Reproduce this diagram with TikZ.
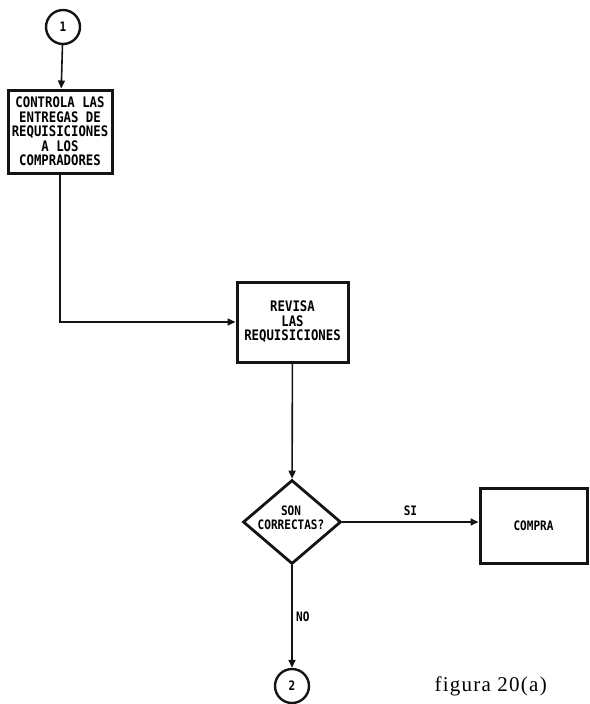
\documentclass[tikz,border=0pt]{standalone}
\usepackage{fontspec}
\usepackage{tikz}
\usetikzlibrary{positioning, arrows.meta, shapes.geometric}
\newfontfamily\plotfont[FakeStretch=0.85]{DejaVu Sans Mono}
\newfontfamily\capfont[LetterSpace=6]{Liberation Serif}
\definecolor{inkblack}{RGB}{20, 20, 20}

\begin{document}
\begin{tikzpicture}[x=1pt, y=-1pt, >={Triangle[length=8pt, width=7pt]},
    font=\plotfont\bfseries\fontsize{14.5}{14.5}\selectfont,
    procbox/.style={draw=inkblack, line width=3pt, rectangle, align=center, inner sep=0pt},
    decbox/.style={draw=inkblack, line width=2.8pt, diamond, inner sep=0pt},
    conn/.style={draw=inkblack, circle, line width=2.4pt, minimum size=34pt, inner sep=0pt,
                 font=\plotfont\bfseries\fontsize{13}{13}\selectfont},
    flow/.style={->, draw=inkblack, line width=1.6pt}]
  \useasboundingbox (0,0) rectangle (589,704);
  % Top: connector and first activity
  \node[conn] (c1) at (63, 27) {1};
  \node[procbox, minimum width=104pt, minimum height=83pt] (ctrl) at (60, 131.5)
        {CONTROLA LAS\\ENTREGAS DE\\REQUISICIONES\\A LOS\\COMPRADORES};
  % Middle: review and decision
  \node[procbox, minimum width=111pt, minimum height=80pt] (rev) at (292.5, 322)
        {REVISA\\LAS\\REQUISICIONES};
  \node[decbox, minimum width=98pt, minimum height=84pt] (dec) at (292, 522) {};
  \node[font=\plotfont\bfseries\fontsize{13}{13.5}\selectfont, align=center] (dectxt) at (291, 518)
        {SON\\CORRECTAS?};
  \node[procbox, minimum width=107pt, minimum height=75pt,
        font=\plotfont\bfseries\fontsize{13}{13}\selectfont] (buy) at (533.5, 525.5) {COMPRA};
  % Bottom: exit connector and caption
  \node[conn] (c2) at (292, 686) {2};
  \node[font=\capfont\fontsize{21}{21}\selectfont, anchor=west] (cap) at (431, 686) {figura 20(a)};

  \draw[flow] (c1) -- (ctrl);
  \draw[flow] (ctrl.south) |- (rev.west);
  \draw[flow] (rev) -- (dec);
  \draw[flow] (dec.east) -- node[above=2pt, font=\plotfont\bfseries\fontsize{13}{13}\selectfont] (si) {SI}
        (dec.east -| buy.west);
  \draw[flow] (dec.south) -- node[right=0pt, font=\plotfont\bfseries\fontsize{13}{13}\selectfont] (no) {NO} (c2);
\end{tikzpicture}
\end{document}
